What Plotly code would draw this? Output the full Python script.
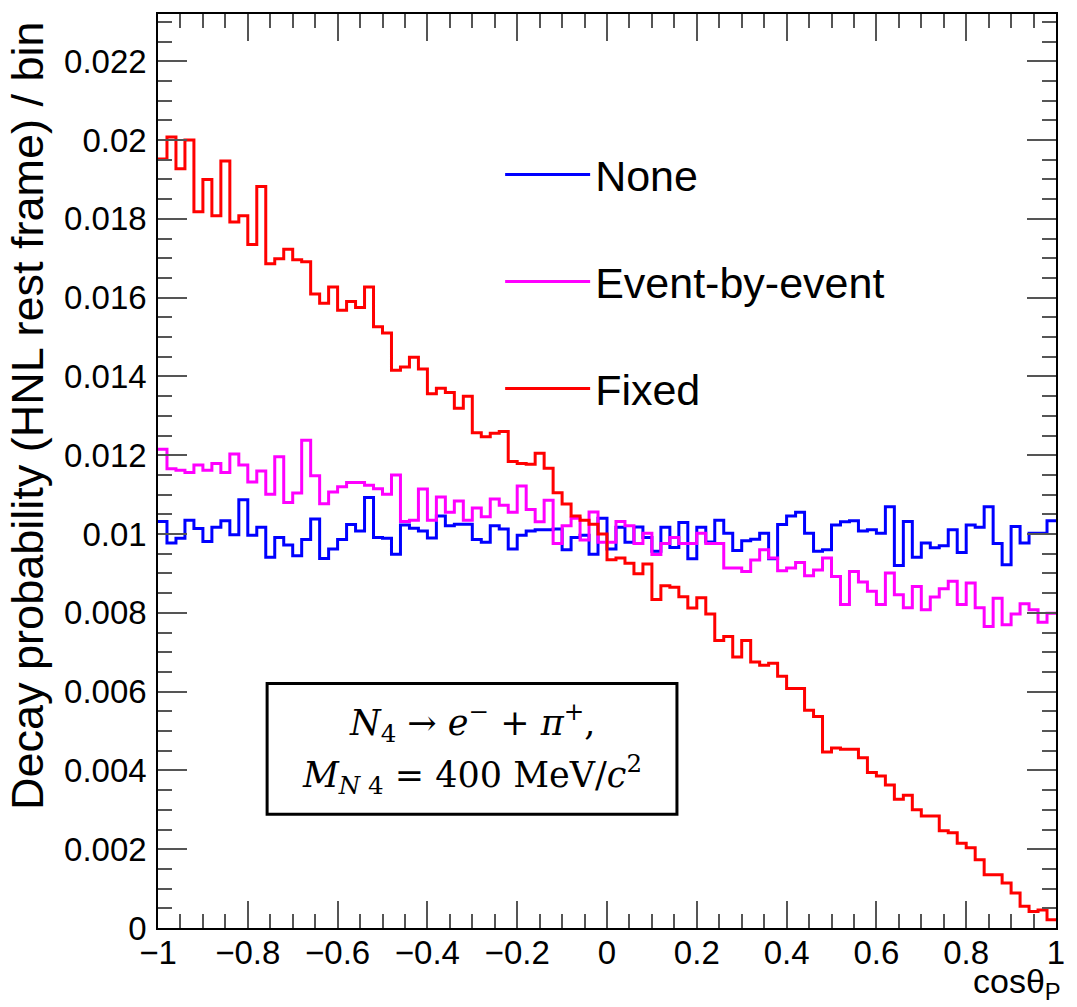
import numpy as np
import plotly.graph_objects as go

# cos(theta_P) histogram: 100 bins on [-1, 1]
bin_edges = np.linspace(-1.0, 1.0, 101)

none_vals = [
    0.01032, 0.00977, 0.00989, 0.01035, 0.01014, 0.00981, 0.01017, 0.01034, 0.00998, 0.01087,
    0.00997, 0.01017, 0.00941, 0.00991, 0.00972, 0.00945, 0.00986, 0.01038, 0.00938, 0.00962,
    0.00986, 0.01024, 0.01008, 0.01093, 0.00991, 0.00989, 0.00949, 0.01023, 0.01015, 0.01008,
    0.00990, 0.01046, 0.01021, 0.01025, 0.01025, 0.00986, 0.00979, 0.01021, 0.01013, 0.00962,
    0.00997, 0.01008, 0.01011, 0.01011, 0.01013, 0.00960, 0.00991, 0.00997, 0.00949, 0.01040,
    0.00962, 0.01017, 0.00979, 0.01018, 0.00991, 0.00956, 0.01017, 0.00966, 0.01029, 0.00937,
    0.01017, 0.00980, 0.01035, 0.01002, 0.00958, 0.00983, 0.00987, 0.01002, 0.00937, 0.01024,
    0.01046, 0.01055, 0.01002, 0.00956, 0.00960, 0.01023, 0.01031, 0.01034, 0.01008, 0.01011,
    0.01002, 0.01069, 0.00920, 0.01032, 0.00941, 0.00977, 0.00965, 0.00970, 0.01011, 0.00953,
    0.01023, 0.01017, 0.01069, 0.00976, 0.00922, 0.01019, 0.00977, 0.01002, 0.01002, 0.01034,
]

event_vals = [
    0.01215, 0.01166, 0.01162, 0.01156, 0.01175, 0.01162, 0.01179, 0.01156, 0.01203, 0.01175,
    0.01132, 0.01160, 0.01101, 0.01196, 0.01080, 0.01104, 0.01238, 0.01148, 0.01077, 0.01107,
    0.01120, 0.01131, 0.01131, 0.01124, 0.01115, 0.01101, 0.01150, 0.01032, 0.01035, 0.01114,
    0.01035, 0.01094, 0.01055, 0.01084, 0.01035, 0.01066, 0.01044, 0.01089, 0.01073, 0.01055,
    0.01122, 0.01062, 0.01031, 0.01086, 0.00976, 0.01021, 0.01040, 0.00985, 0.01056, 0.00979,
    0.00979, 0.01032, 0.01021, 0.00976, 0.01002, 0.00948, 0.00976, 0.00991, 0.00976, 0.00976,
    0.01002, 0.00976, 0.00976, 0.00914, 0.00914, 0.00905, 0.00934, 0.00960, 0.00939, 0.00907,
    0.00914, 0.00928, 0.00894, 0.00909, 0.00939, 0.00892, 0.00821, 0.00905, 0.00878, 0.00855,
    0.00821, 0.00901, 0.00846, 0.00813, 0.00867, 0.00808, 0.00840, 0.00861, 0.00880, 0.00821,
    0.00876, 0.00813, 0.00765, 0.00837, 0.00770, 0.00797, 0.00823, 0.00808, 0.00776, 0.00799,
]

fixed_vals = [
    0.01952, 0.02008, 0.01927, 0.02000, 0.01818, 0.01900, 0.01808, 0.01947, 0.01792, 0.01808,
    0.01735, 0.01882, 0.01686, 0.01699, 0.01723, 0.01696, 0.01691, 0.01609, 0.01586, 0.01627,
    0.01568, 0.01590, 0.01575, 0.01627, 0.01526, 0.01510, 0.01416, 0.01424, 0.01449, 0.01419,
    0.01356, 0.01370, 0.01359, 0.01319, 0.01350, 0.01257, 0.01247, 0.01256, 0.01260, 0.01184,
    0.01179, 0.01177, 0.01205, 0.01167, 0.01105, 0.01076, 0.01046, 0.01035, 0.01025, 0.01000,
    0.00935, 0.00939, 0.00926, 0.00899, 0.00924, 0.00834, 0.00869, 0.00865, 0.00841, 0.00812,
    0.00838, 0.00797, 0.00730, 0.00740, 0.00688, 0.00730, 0.00675, 0.00667, 0.00672, 0.00639,
    0.00608, 0.00608, 0.00553, 0.00537, 0.00447, 0.00457, 0.00454, 0.00454, 0.00432, 0.00395,
    0.00386, 0.00363, 0.00327, 0.00337, 0.00300, 0.00284, 0.00284, 0.00247, 0.00242, 0.00215,
    0.00204, 0.00173, 0.00135, 0.00135, 0.00114, 0.00089, 0.00055, 0.00042, 0.00046, 0.00021,
]

series_names = ["None", "Event-by-event", "Fixed"]
series_colors = ["#0000ff", "#ff00ff", "#ff0000"]

x_tickvals = [-1, -0.8, -0.6, -0.4, -0.2, 0, 0.2, 0.4, 0.6, 0.8, 1]
x_ticktext = ["\u22121", "\u22120.8", "\u22120.6", "\u22120.4", "\u22120.2", "0",
              "0.2", "0.4", "0.6", "0.8", "1"]
y_tickvals = [0, 0.002, 0.004, 0.006, 0.008, 0.01, 0.012, 0.014, 0.016, 0.018, 0.02, 0.022]
y_ticktext = ["0", "0.002", "0.004", "0.006", "0.008", "0.01", "0.012", "0.014",
              "0.016", "0.018", "0.02", "0.022"]

fig = go.Figure()
for name, vals, color in zip(series_names, [none_vals, event_vals, fixed_vals], series_colors):
    # step outline: one point per bin edge, last content repeated to close the final bin
    fig.add_trace(go.Scatter(
        x=bin_edges,
        y=list(vals) + [vals[-1]],
        mode="lines",
        line=dict(color=color, width=3, shape="hv"),
        name=name,
        legendgroup=name,
    ))

font_family = "Liberation Sans, Arial, sans-serif"
math_family = "DejaVu Serif, Liberation Serif, serif"
tick_color = "#555555"

fig.update_layout(
    width=1077,
    height=1007,
    margin=dict(l=158, r=14, t=12, b=79),
    paper_bgcolor="white",
    plot_bgcolor="white",
    font=dict(family=font_family, size=33, color="black"),
    showlegend=True,
    legend=dict(
        x=0.381, y=0.862, xanchor="left", yanchor="top",
        font=dict(size=43, family=font_family),
        bgcolor="rgba(255,255,255,0)",
        traceorder="grouped",
        tracegroupgap=48,
        itemwidth=85,
    ),
    xaxis=dict(
        range=[-1, 1],
        tickvals=x_tickvals, ticktext=x_ticktext,
        ticks="inside", ticklen=27, tickwidth=1.5, tickcolor=tick_color,
        minor=dict(dtick=0.05, tick0=-1, ticks="inside", ticklen=14, tickwidth=1.5,
                   tickcolor=tick_color, showgrid=False),
        showline=True, linecolor="black", linewidth=1.5, mirror="ticks",
        showgrid=False, zeroline=False,
        tickfont=dict(size=33),
        ticklabelstandoff=-5,
    ),
    yaxis=dict(
        range=[0, 0.0232],
        tickvals=y_tickvals, ticktext=y_ticktext,
        ticks="inside", ticklen=29, tickwidth=1.5, tickcolor=tick_color,
        minor=dict(dtick=0.0005, tick0=0, ticks="inside", ticklen=14, tickwidth=1.5,
                   tickcolor=tick_color, showgrid=False),
        showline=True, linecolor="black", linewidth=1.5, mirror="ticks",
        showgrid=False, zeroline=False,
        tickfont=dict(size=33),
        ticklabelstandoff=3,
    ),
)

# axis titles, placed ROOT-style at the far end of each axis
fig.add_annotation(
    text="Decay probability (HNL rest frame) / bin",
    xref="paper", yref="paper", x=-0.146, y=0.995,
    xanchor="center", yanchor="top", textangle=-90, showarrow=False,
    font=dict(size=45, family=font_family),
)
fig.add_annotation(
    text="cos\u03b8<sub>P</sub>",
    xref="paper", yref="paper", x=1.008, y=-0.061,
    xanchor="right", yanchor="middle", showarrow=False,
    font=dict(size=34, family=font_family),
)

# decay channel box
fig.add_shape(
    type="rect", xref="x", yref="y",
    x0=-0.757, x1=0.1558, y0=0.002887, y1=0.006205,
    line=dict(color="black", width=3), fillcolor="white", layer="above",
)
fig.add_annotation(
    text="<i>N</i><sub>4</sub> \u2192 <i>e</i><sup>\u2212</sup> + <i>\u03c0</i><sup>+</sup>,",
    xref="x", yref="y", x=-0.3006, y=0.00522,
    xanchor="center", yanchor="middle", showarrow=False,
    font=dict(size=35, family=math_family),
)
fig.add_annotation(
    text="<i>M</i><sub><i>N</i> 4</sub> = 400 MeV/<i>c</i><sup>2</sup>",
    xref="x", yref="y", x=-0.3006, y=0.00390,
    xanchor="center", yanchor="middle", showarrow=False,
    font=dict(size=35, family=math_family),
)

fig.write_html("out.html")
